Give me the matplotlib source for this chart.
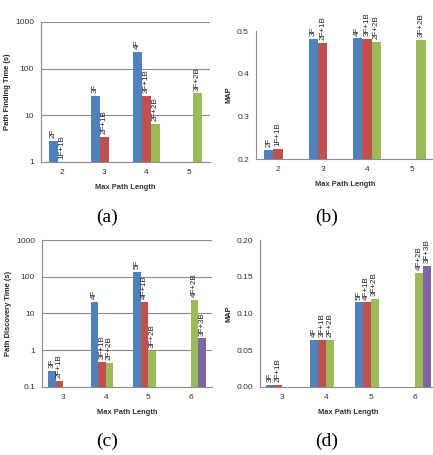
import numpy as np
import matplotlib
matplotlib.use("Agg")
import matplotlib.pyplot as plt
from matplotlib.ticker import FixedLocator, FixedFormatter

nan = np.nan
colors = ['#4F81BD', '#C0504D', '#9BBB59', '#8064A2']

# (a) path finding time
a_groups = [2, 3, 4, 5]
a_vals = [[2.85, 26, 228, nan],
          [1.0, 3.4, 26, nan],
          [nan, nan, 6.6, 29.5]]
a_labels = [['2F', '3F', '4F', ''],
            ['1F+1B', '2F+1B', '3F+1B', ''],
            ['', '', '2F+2B', '3F+2B']]

# (b) MAP
b_groups = [2, 3, 4, 5]
b_vals = [[0.222, 0.481, 0.483, nan],
          [0.223, 0.473, 0.481, nan],
          [nan, nan, 0.474, 0.480]]
b_labels = a_labels

# (c) path discovery time
c_groups = [3, 4, 5, 6]
c_vals = [[0.277, 21, 138, nan],
          [0.143, 0.49, 21, nan],
          [nan, 0.45, 0.97, 23],
          [nan, nan, nan, 2.1]]
c_labels = [['3F', '4F', '5F', ''],
            ['2F+1B', '3F+1B', '4F+1B', ''],
            ['', '2F+2B', '3F+2B', '4F+2B'],
            ['', '', '', '3F+3B']]

# (d) MAP
d_groups = [3, 4, 5, 6]
d_vals = [[0.003, 0.064, 0.115, nan],
          [0.003, 0.064, 0.115, nan],
          [nan, 0.064, 0.120, 0.155],
          [nan, nan, nan, 0.165]]
d_labels = c_labels

plt.rcParams['font.family'] = ['Liberation Sans', 'DejaVu Sans']
fig = plt.figure(figsize=(4.33, 4.55), dpi=100)
gray = '#8c8c8c'


def panel(rect, groups, vals, labels, ylabel, log, ylim, yticks, ytlabels,
          grid, width, caption, cap_xy):
    ax = fig.add_axes(rect)
    n = len(vals)
    x = np.arange(len(groups))
    for i in range(n):
        off = (i - (n - 1) / 2) * width
        v = np.array(vals[i], dtype=float)
        ax.bar(x + off, np.nan_to_num(v, nan=0), width, color=colors[i],
               zorder=3)
        for j in range(len(groups)):
            if labels[i][j]:
                ax.annotate(labels[i][j], (x[j] + off, v[j]),
                            xytext=(0, 2), textcoords='offset points',
                            rotation=90, ha='center', va='bottom',
                            fontsize=5.8, color='#222222',
                            annotation_clip=False)
    if log:
        ax.set_yscale('log')
    ax.set_ylim(*ylim)
    ax.set_xlim(-0.5, len(groups) - 0.5)
    ax.yaxis.set_major_locator(FixedLocator(yticks))
    ax.yaxis.set_major_formatter(FixedFormatter(ytlabels))
    ax.yaxis.set_minor_locator(FixedLocator([]))
    ax.set_xticks(x)
    ax.set_xticklabels([str(g) for g in groups])
    ax.tick_params(axis='both', length=0, labelsize=6, colors='#333333',
                   pad=5)
    for s in ['top', 'right']:
        ax.spines[s].set_visible(False)
    for s in ['left', 'bottom']:
        ax.spines[s].set_color(gray)
        ax.spines[s].set_linewidth(0.8)
    if grid:
        ax.grid(axis='y', color=gray, linewidth=0.8, zorder=0)
    ax.set_xlabel('Max Path Length', fontsize=5.4, fontweight='bold',
                  color='#333333', labelpad=6)
    ax.set_ylabel(ylabel, fontsize=5.4, fontweight='bold', color='#222222',
                  labelpad=3)
    fig.text(cap_xy[0], cap_xy[1], caption, ha='center', va='center',
             fontsize=14, family='Liberation Serif')
    return ax


panel([0.0947, 0.644, 0.390, 0.3077], a_groups, a_vals, a_labels,
      'Path Finding Time (s)', True, (1, 1000), [1, 10, 100, 1000],
      ['1', '10', '100', '1000'], True, 0.21, '(a)', (0.247, 0.523))
panel([0.591, 0.6505, 0.411, 0.2813], b_groups, b_vals, b_labels,
      'MAP', False, (0.2, 0.5), [0.2, 0.3, 0.4, 0.5],
      ['0.2', '0.3', '0.4', '0.5'], False, 0.21, '(b)', (0.755, 0.523))
panel([0.097, 0.1495, 0.3926, 0.323], c_groups, c_vals, c_labels,
      'Path Discovery Time (s)', True, (0.1, 1000),
      [0.1, 1, 10, 100, 1000], ['0.1', '1', '10', '100', '1000'], True,
      0.175, '(c)', (0.247, 0.031))
panel([0.6005, 0.1495, 0.4088, 0.323], d_groups, d_vals, d_labels,
      'MAP', False, (0, 0.2), [0, 0.05, 0.1, 0.15, 0.2],
      ['0.00', '0.05', '0.10', '0.15', '0.20'], False, 0.18, '(d)',
      (0.755, 0.031))

fig.savefig('out.png', dpi=100)
